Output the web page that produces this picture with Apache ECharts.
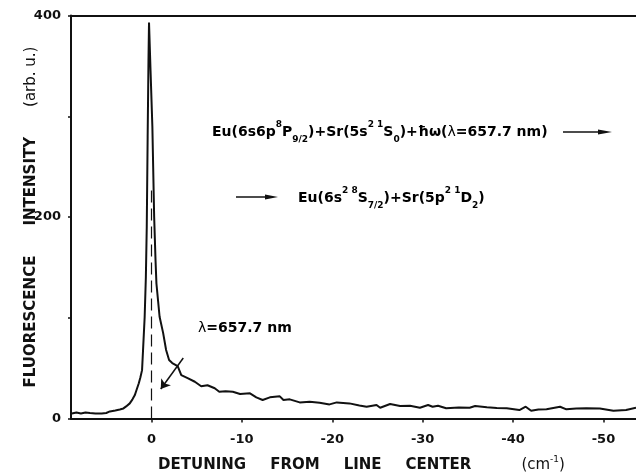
<!DOCTYPE html>
<html>
<head>
<meta charset="utf-8">
<script src="https://cdn.jsdelivr.net/npm/echarts@6/dist/echarts.min.js"></script>
<style>
html,body{margin:0;padding:0;background:#fff;}
#chart{width:636px;height:473px;}
</style>
</head>
<body>
<div id="chart"></div>
<script>
// Detuning from line centre (cm^-1) and fluorescence intensity (arb. u.)
var detuning = [8.8, 8.3, 7.8, 7.3, 6.8, 6.2, 5.5, 5.0, 4.6, 4.0,
  3.5, 3.1, 2.8, 2.4, 2.1, 1.85, 1.66, 1.4, 1.22, 1.04,
  0.93, 0.75, 0.62, 0.52, 0.42, 0.33, 0.27, 0.1, -0.1, -0.3,
  -0.45, -0.55, -0.9, -1.29, -1.62, -1.95, -2.3, -2.9, -3.3, -4.0,
  -4.8, -5.5, -6.2, -7.0, -7.5, -8.2, -9.0, -9.8, -10.9, -11.6,
  -12.3, -13.1, -14.2, -14.6, -15.3, -16.4, -17.5, -18.6, -19.7, -20.5,
  -21.9, -23.0, -23.8, -24.9, -25.3, -26.4, -27.5, -28.6, -29.7, -30.6,
  -31.1, -31.7, -32.6, -34.0, -35.2, -35.8, -37.1, -38.2, -39.3, -40.7,
  -41.4, -42.0, -42.8, -43.7, -45.2, -45.9, -47.0, -48.1, -49.6, -51.1,
  -52.5, -53.6];
var intensity = [5, 6, 5, 6, 5.5, 5, 5, 5.5, 7, 8,
  9, 10, 12, 15, 19, 23, 28, 35, 41, 48,
  68, 101, 140, 190, 280, 355, 393, 345, 290, 200,
  157, 134, 101, 85, 68, 58, 55, 52, 43, 40,
  36.5, 32, 33, 30, 26.6, 27, 26.5, 24.3, 25, 21,
  18.4, 21, 22, 18.4, 19, 16, 16.7, 15.7, 14, 16,
  15, 13, 11.7, 13.4, 10.7, 14.4, 12.4, 12.7, 10.7, 13.4,
  11.7, 12.7, 10.1, 11, 10.7, 12.4, 11.1, 10.5, 10.1, 8.4,
  11.7, 7.7, 9, 9.1, 11.7, 9.1, 10, 10.1, 10, 7.7,
  8.4, 10.7];
var yTickLabels = ['0', '200', '400'];
var xRange = [-53.6, 8.9];
var yRange = [0, 400];
var lineCentre = [[0, 0], [0, 230]];          // dashed marker at zero detuning
var laserArrow = [[-3.52, 60], [-1.03, 29.3]];  // arrow marking lambda = 657.7 nm

var points = detuning.map(function (d, i) { return [d, intensity[i]]; });

var FONT = 'DejaVu Sans';
var richBase = {
  b: {fontFamily: FONT, fontWeight: 'bold', fontSize: 14, lineHeight: 24, verticalAlign: 'middle', color: '#111'},
  l: {fontFamily: FONT, fontWeight: 'normal', fontSize: 14, lineHeight: 24, verticalAlign: 'middle', color: '#111'},
  sup: {fontFamily: FONT, fontWeight: 'bold', fontSize: 9, lineHeight: 10, verticalAlign: 'top', color: '#111'},
  sub: {fontFamily: FONT, fontWeight: 'bold', fontSize: 9, lineHeight: 10, verticalAlign: 'bottom', color: '#111'}
};

var chart = echarts.init(document.getElementById('chart'), null, {renderer: 'canvas'});
chart.setOption({
  backgroundColor: '#fff',
  animation: false,
  grid: {left: 71, right: 0, top: 15.5, bottom: 54.5, containLabel: false, outerBoundsMode: 'none'},
  xAxis: [{
    type: 'value', min: xRange[0], max: xRange[1], inverse: true, splitNumber: 6,
    axisLine: {show: true, onZero: false, lineStyle: {color: '#111', width: 2}},
    axisTick: {show: true, length: 4, inside: false, lineStyle: {color: '#111', width: 1.5}},
    splitLine: {show: false},
    axisLabel: {show: true, margin: 15, showMinLabel: false, showMaxLabel: false,
      fontFamily: FONT, fontWeight: 'bold', fontSize: 13, color: '#111',
      formatter: function (v) { return v === 0 ? '0' : '-' + Math.abs(v); }},
    name: '{t|DETUNING}{g| }{t|FROM}{g| }{t|LINE}{g| }{t|CENTER}{w| }{n|(cm}{s|-1}{n|)}',
    nameLocation: 'middle', nameGap: 37, nameMoveOverlap: false,
    nameTextStyle: {padding: [0, 0, 0, 16], rich: {
      t: {fontFamily: FONT, fontWeight: 'bold', fontSize: 15, lineHeight: 20, verticalAlign: 'middle', color: '#111'},
      g: {fontFamily: FONT, fontSize: 14, width: 24, lineHeight: 20, verticalAlign: 'middle'},
      w: {fontFamily: FONT, fontSize: 14, width: 50, lineHeight: 20, verticalAlign: 'middle'},
      n: {fontFamily: FONT, fontWeight: 'normal', fontSize: 15, lineHeight: 20, verticalAlign: 'middle', color: '#111'},
      s: {fontFamily: FONT, fontWeight: 'normal', fontSize: 9, lineHeight: 10, verticalAlign: 'top', color: '#111'}
    }}
  }, {
    type: 'value', position: 'top', min: xRange[0], max: xRange[1], inverse: true,
    axisLine: {show: true, onZero: false, lineStyle: {color: '#111', width: 2}},
    axisTick: {show: false}, axisLabel: {show: false}, splitLine: {show: false}
  }],
  yAxis: {
    type: 'value', min: yRange[0], max: yRange[1], interval: 100,
    axisLine: {show: true, onZero: false, lineStyle: {color: '#111', width: 2}},
    axisTick: {show: true, length: 3, lineStyle: {color: '#111', width: 1.5}},
    splitLine: {show: false},
    axisLabel: {margin: 10, fontFamily: FONT, fontWeight: 'bold', fontSize: 13, color: '#111',
      formatter: function (v) { return yTickLabels.indexOf(String(v)) >= 0 ? String(v) : ''; }},
    name: '{t|FLUORESCENCE}{g| }{t|INTENSITY}{g| }{n|(arb. u.)}',
    nameLocation: 'middle', nameGap: 32, nameMoveOverlap: false,
    nameTextStyle: {rich: {
      t: {fontFamily: FONT, fontWeight: 'bold', fontSize: 15, color: '#111'},
      g: {fontFamily: FONT, fontSize: 15, width: 30},
      n: {fontFamily: FONT, fontWeight: 'normal', fontSize: 15, color: '#111'}
    }}
  },
  series: [{
    type: 'line', data: points, showSymbol: false, symbol: 'none', smooth: false,
    lineStyle: {color: '#111', width: 2}, xAxisIndex: 0, z: 3,
    markLine: {
      silent: true, animation: false,
      label: {show: false},
      data: [
        [{coord: lineCentre[0], symbol: 'none', lineStyle: {type: [12, 6], width: 1.2, color: '#111'}},
         {coord: lineCentre[1], symbol: 'none'}],
        [{coord: laserArrow[0], symbol: 'none', lineStyle: {type: 'solid', width: 1.5, color: '#111'}},
         {coord: laserArrow[1], symbol: 'arrow', symbolSize: 9}]
      ]
    }
  }],
  graphic: [
    {type: 'text', left: 212, top: 120, style: {
      text: '{b|Eu(6s6p}{sup|8}{b|P}{sub|9/2}{b|)+Sr(5s}{sup|2 1}{b|S}{sub|0}{b|)+ħω(}{l|λ}{b|=657.7 nm)}',
      rich: richBase}},
    {type: 'line', shape: {x1: 563, y1: 132, x2: 604, y2: 132}, style: {stroke: '#111', lineWidth: 1.5}},
    {type: 'polygon', shape: {points: [[598, 129.5], [612, 132], [598, 134.5]]}, style: {fill: '#111'}},
    {type: 'line', shape: {x1: 236, y1: 197, x2: 270, y2: 197}, style: {stroke: '#111', lineWidth: 1.5}},
    {type: 'polygon', shape: {points: [[265, 194.5], [278, 197], [265, 199.5]]}, style: {fill: '#111'}},
    {type: 'text', left: 298, top: 186, style: {
      text: '{b|Eu(6s}{sup|2 8}{b|S}{sub|7/2}{b|)+Sr(5p}{sup|2 1}{b|D}{sub|2}{b|)}',
      rich: richBase}},
    {type: 'text', left: 198, top: 321, style: {
      text: '{l|λ}{b|=657.7 nm}', rich: richBase}}
  ]
});
</script>
</body>
</html>
